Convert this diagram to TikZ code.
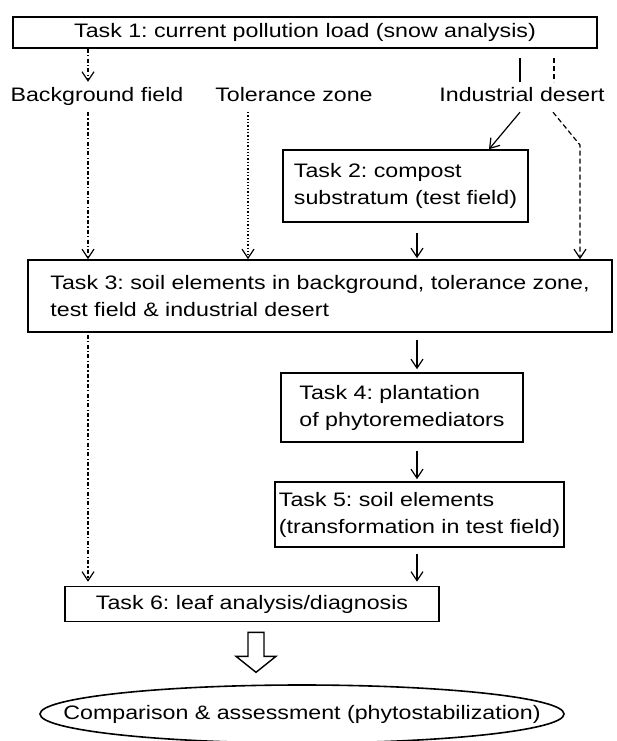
\documentclass[tikz,border=0pt]{standalone}
\usepackage{fontspec}
\setmainfont{Liberation Sans}[FakeStretch=1.19]
\usetikzlibrary{arrows.meta,shapes.geometric,calc}
\begin{document}
\frenchspacing
\begin{tikzpicture}[x=1pt,y=-1pt,
  every node/.style={font=\fontsize{19.5}{27}\selectfont},
  task/.style={draw,line width=1.6pt,inner sep=0pt,align=left},
  lbl/.style={inner sep=0pt,text height=14pt,text depth=4pt,minimum height=30pt},
  conn/.style={line width=1.2pt},
  tip/.style={-{Straight Barb[length=9pt,width=12pt,line width=1.2pt]}},
  dashdot/.style={dash pattern=on 4pt off 2.2pt on 1.4pt off 2.2pt},
  dotline/.style={dash pattern=on 1.3pt off 2pt},
  dashline/.style={dash pattern=on 5pt off 3pt}]
\useasboundingbox (0,0) rectangle (616,741);
\node[task,minimum width=584pt,minimum height=31pt] (t1) at (305,32.5) {Task 1: current pollution load (snow analysis)};
\node[lbl] (bg) at (97,97) {Background field};
\node[lbl] (tol) at (294,97) {Tolerance zone};
\node[lbl] (ind) at (522,97) {Industrial desert};
\node[task,minimum width=245pt,minimum height=72pt] (t2) at (405.5,186) {Task 2: compost\\substratum (test field)};
\node[task,minimum width=584pt,minimum height=72pt] (t3) at (320,296) {Task 3: soil elements in background, tolerance zone,\\test field \& industrial desert};
\node[task,minimum width=242pt,minimum height=69pt] (t4) at (402,407.5) {Task 4: plantation\\of phytoremediators};
\node[task,minimum width=289pt,minimum height=65pt] (t5) at (419.5,514.5) {Task 5: soil elements\\(transformation in test field)};
\node[task,minimum width=374pt,minimum height=35pt] (t6) at (252,604) {Task 6: leaf analysis/diagnosis};
\node[inner sep=0pt] (res) at (302,714) {Comparison \& assessment (phytostabilization)};
\draw[line width=1.6pt] (res.center) ellipse [x radius=262, y radius=29];
% connectors
\coordinate (bgx) at (88,0);
\coordinate (tolx) at (248,0);
\coordinate (indl) at (520,0);
\coordinate (indr) at (554,0);
\coordinate (dbend) at (580,145);
\coordinate (midx) at (417,0);
\draw[conn,tip,dashdot] (t1.south -| bgx) -- (bg.north -| bgx);
\draw[conn,tip,dashdot] (bg.south -| bgx) -- (t3.north -| bgx);
\draw[conn,tip,dotline] (tol.south -| tolx) -- (t3.north -| tolx);
\draw[conn] ([yshift=-9pt]t1.south -| indl) -- (ind.north -| indl);
\draw[conn,dashline] ([yshift=-9pt]t1.south -| indr) -- (ind.north -| indr);
\draw[conn,tip] (ind.south -| indl) -- (t2.north -| 489,0);
\draw[conn,tip,dashline] ([xshift=-1pt]ind.south -| indr) -- (dbend) -- (t3.north -| dbend);
\draw[conn,tip,shorten <=10pt,shorten >=1pt] (t2.south -| midx) -- (t3.north -| midx);
\draw[conn,tip,shorten <=7pt,shorten >=3pt] (t3.south -| midx) -- (t4.north -| midx);
\draw[conn,tip,shorten <=8pt,shorten >=2pt] (t4.south -| midx) -- (t5.north -| midx);
\draw[conn,tip,shorten <=6pt,shorten >=4pt] (t5.south -| midx) -- (t6.north -| midx);
\draw[conn,tip,dashdot,shorten <=2pt,shorten >=4pt] (t3.south -| bgx) -- (t6.north -| bgx);
% block arrow
\coordinate (ba) at ($(t6.south)+(4,10)$);
\draw[line width=1.4pt,fill=white] ($(ba)+(-8,0)$) -- ($(ba)+(8,0)$) -- ($(ba)+(8,24)$) -- ($(ba)+(20,24)$) -- ($(ba)+(0,40)$) -- ($(ba)+(-20,24)$) -- ($(ba)+(-8,24)$) -- cycle;
\end{tikzpicture}
\end{document}
